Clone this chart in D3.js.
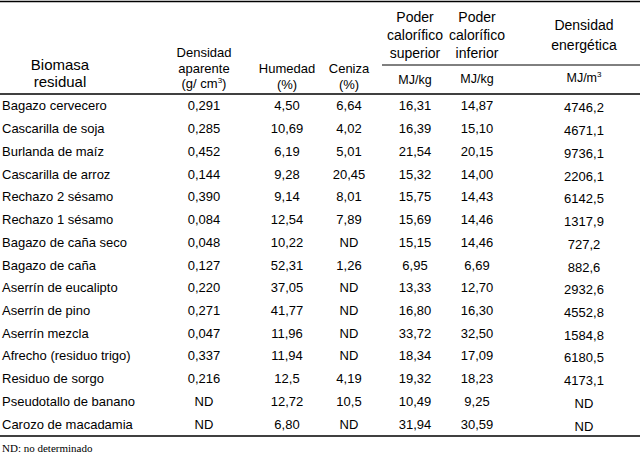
<!DOCTYPE html>
<html><head><meta charset="utf-8">
<script src="https://cdn.jsdelivr.net/npm/d3@7"></script>
<style>body{margin:0;background:#fff}text{font-family:"Liberation Sans",Arial,sans-serif;fill:#000}</style>
</head><body><svg id="t" width="640" height="461"></svg>
<script>
// table data
const biomasa = ["Bagazo cervecero","Cascarilla de soja","Burlanda de maíz","Cascarilla de arroz","Rechazo 2 sésamo","Rechazo 1 sésamo","Bagazo de caña seco","Bagazo de caña","Aserrín de eucalipto","Aserrín de pino","Aserrín mezcla","Afrecho (residuo trigo)","Residuo de sorgo","Pseudotallo de banano","Carozo de macadamia"];
const densidad = ["0,291","0,285","0,452","0,144","0,390","0,084","0,048","0,127","0,220","0,271","0,047","0,337","0,216","ND","ND"];
const humedad = ["4,50","10,69","6,19","9,28","9,14","12,54","10,22","52,31","37,05","41,77","11,96","11,94","12,5","12,72","6,80"];
const ceniza = ["6,64","4,02","5,01","20,45","8,01","7,89","ND","1,26","ND","ND","ND","ND","4,19","10,5","ND"];
const pcs = ["16,31","16,39","21,54","15,32","15,75","15,69","15,15","6,95","13,33","16,80","33,72","18,34","19,32","10,49","31,94"];
const pci = ["14,87","15,10","20,15","14,00","14,43","14,46","14,46","6,69","12,70","16,30","32,50","17,09","18,23","9,25","30,59"];
const energia = ["4746,2","4671,1","9736,1","2206,1","6142,5","1317,9","727,2","882,6","2932,6","4552,8","1584,8","6180,5","4173,1","ND","ND"];

const svg = d3.select("#t");
const y = d3.scaleBand().domain(d3.range(biomasa.length)).range([94, 435]);

const cols = [
  {x: 2, anchor: "start", vals: biomasa, dy: 0},
  {x: 204, anchor: "middle", vals: densidad, dy: 0},
  {x: 287, anchor: "middle", vals: humedad, dy: 0},
  {x: 349, anchor: "middle", vals: ceniza, dy: 0},
  {x: 415, anchor: "middle", vals: pcs, dy: 0},
  {x: 477, anchor: "middle", vals: pci, dy: 0},
  {x: 584, anchor: "middle", vals: energia, dy: 2}
];

cols.forEach(c => {
  svg.append("g").selectAll("text").data(c.vals).join("text")
    .attr("x", c.x).attr("y", (d, i) => y(i) + y.bandwidth() / 2 + 5 + c.dy)
    .attr("text-anchor", c.anchor).attr("font-size", 13).text(d => d);
});

// header
function head(x, lines, y0, size, step) {
  const t = svg.append("text").attr("text-anchor", "middle").attr("font-size", size);
  lines.forEach((l, i) => t.append("tspan").attr("x", x).attr("y", y0 + i * step).html(l));
}
head(60, ["Biomasa", "residual"], 70, 15, 17);
head(204, ["Densidad", "aparente", "(g/ cm<tspan dy='-5' font-size='8'>3</tspan><tspan dy='5'>)</tspan>"], 57, 13, 15.5);
head(287, ["Humedad", "(%)"], 73, 13, 16);
head(349, ["Ceniza", "(%)"], 73, 13, 16);
head(415, ["Poder", "calorífico", "superior"], 22, 14, 18);
head(477, ["Poder", "calorífico", "inferior"], 22, 14, 18);
head(584, ["Densidad", "energética"], 30, 14, 20);
head(415, ["MJ/kg"], 84, 12.5, 0);
head(477, ["MJ/kg"], 83, 12.5, 0);
head(584, ["MJ/m<tspan dy='-5' font-size='8'>3</tspan>"], 82, 12.5, 0);

const line = (x1, x2, yy, w) => svg.append("line").attr("x1", x1).attr("x2", x2)
  .attr("y1", yy).attr("y2", yy).attr("stroke", "#000").attr("stroke-width", w);
line(0, 640, 1.5, 1.5);
line(382, 640, 65, 1);
line(0, 640, 94, 1.5);
line(0, 640, 436, 1.5);

svg.append("text").attr("x", 2).attr("y", 452).attr("font-size", 11)
  .style("font-family", "'Liberation Serif',serif").text("ND: no determinado");
</script></body></html>
